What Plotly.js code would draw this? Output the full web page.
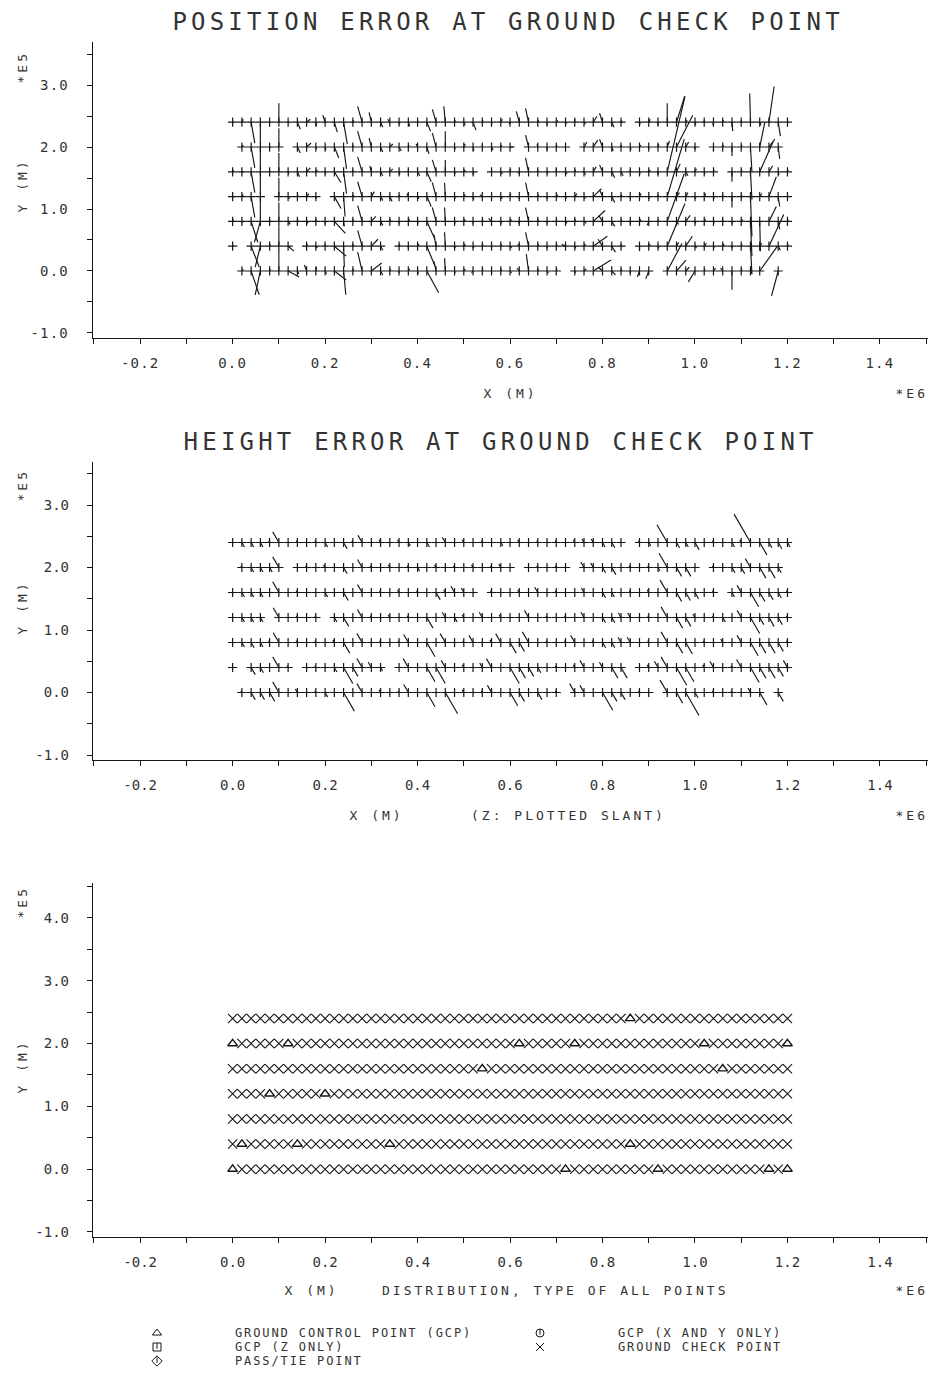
<!DOCTYPE html>
<html>
<head>
<meta charset="utf-8">
<script src="https://cdn.plot.ly/plotly-3.0.1.min.js"></script>
<style>
  html, body { margin: 0; padding: 0; background: #ffffff; }
  #chart { width: 934px; height: 1385px; }
</style>
</head>
<body>
<div id="chart"></div>
<script>
// ---- survey grid: column easting (E6 m) and row northing (E5 m) ----
const GRID_X = [0.00,0.02,0.04,0.06,0.08,0.10,0.12,0.14,0.16,0.18,
                0.20,0.22,0.24,0.26,0.28,0.30,0.32,0.34,0.36,0.38,
                0.40,0.42,0.44,0.46,0.48,0.50,0.52,0.54,0.56,0.58,
                0.60,0.62,0.64,0.66,0.68,0.70,0.72,0.74,0.76,0.78,
                0.80,0.82,0.84,0.86,0.88,0.90,0.92,0.94,0.96,0.98,
                1.00,1.02,1.04,1.06,1.08,1.10,1.12,1.14,1.16,1.18,
                1.20];
const ROW_Y = [2.4, 2.0, 1.6, 1.2, 0.8, 0.4, 0.0];

// grid columns occupied by ground control points, per row (same order as ROW_Y)
const GCP_COLS = [
  [43],
  [0, 6, 31, 37, 51, 60],
  [27, 53],
  [4, 10],
  [],
  [1, 7, 17, 43],
  [0, 36, 46, 58, 60]
];

// ---- planimetric error at check points (metres): east / north components ----
const POS_DE_240 = [1,2,5,0,0,0,1,4,5,1, -3,4,5,1,-6,-3,3,-3,1,2, 0,5,-5,-2,1,2,4,1,0,2, -1,-4,-4,1,0,2,1,0,2,5, -4,3,1,null,1,2,0,0,11,2, 1,0,-1,1,1,0,-1,2,7,3, 1];
const POS_DN_240 = [1,3,-21,-22,1,19,-1,-7,3,-4, 7,-10,-22,2,16,10,-5,3,-2,-4, 2,-9,13,16,2,-3,-8,2,-3,3, -2,11,14,2,-3,2,-2,3,-2,6, 9,-5,2,null,-2,3,-3,19,26,2, -3,2,-3,2,-9,2,29,-3,36,-14, 1];
const POS_DE_200 = [null,2,5,0,1,0,null,4,6,1, 1,6,4,0,-6,-3,3,4,3,1, -2,3,-5,0,1,2,1,0,2,1, 4,null,-4,-1,0,1,0,null,4,6, -4,2,0,1,2,0,1,3,22,4, 1,null,0,1,0,1,2,7,8,2, null];
const POS_DN_200 = [null,2,-21,-22,-1,19,null,-6,4,-2, -3,-11,-22,2,16,9,-5,3,-4,2, 3,-7,14,16,-2,3,-4,2,-3,2, 0,null,12,3,-3,2,-2,null,5,7, 8,-4,2,-3,2,-2,3,6,32,5, -2,null,-4,2,-9,2,-25,25,8,-12, null];
const POS_DE_160 = [1,2,5,0,1,0,1,3,5,2, 1,9,4,0,-6,-2,3,4,1,0, 3,6,-5,0,1,2,1,null,0,2, 1,-1,-4,0,1,0,2,1,2,4, -4,4,3,0,1,2,0,24,5,3, 2,1,1,null,0,1,2,18,5,1, 1];
const POS_DN_160 = [2,-1,-21,-22,1,19,-2,-5,4,2, -2,-11,-22,2,15,6,-4,3,-3,2, -4,-10,12,12,-2,2,-3,null,2,-2, 3,-2,14,2,-2,3,-2,2,-3,5, 7,-6,-4,2,-2,2,-3,76,8,-4, 3,-2,2,null,-10,2,-28,30,6,-3, 2];
const POS_DE_120 = [1,2,5,0,null,0,2,1,3,1, null,9,2,1,-6,4,3,3,1,-2, 2,6,-5,-1,1,2,1,-3,0,2, 1,-1,-4,1,0,2,1,3,2,11, -4,4,1,0,2,1,0,23,4,3, 1,2,1,0,0,1,2,3,10,2, 1];
const POS_DN_120 = [-1,2,-21,-21,null,19,-2,2,3,-2, null,-12,-20,2,15,5,-4,-5,2,3, -2,-10,14,14,-2,2,-3,2,2,-2, 3,-2,14,2,-2,2,-2,3,-2,8, 7,-6,2,-2,3,-2,2,58,4,4, -2,3,-2,2,-11,2,-40,3,20,-10, 1];
const POS_DE_080 = [1,2,9,-8,1,0,3,1,2,1, 0,15,1,1,-6,6,3,1,0,2, 1,11,-5,-1,1,2,0,1,-4,1, 2,-1,-4,1,0,1,2,1,3,16, -5,4,1,0,2,-2,1,23,3,6, 1,2,1,0,1,2,2,1,10,2, 1];
const POS_DN_080 = [2,-1,-21,-21,1,19,-3,2,-2,2, -2,-12,-5,2,16,5,-4,2,-2,2, -2,-18,14,14,-2,2,-2,2,3,-2, 2,-2,14,2,-2,2,-2,2,-2,11, 6,-5,2,-2,2,-4,2,48,-3,6, -2,2,-2,2,-2,2,-35,-30,15,-8, 2];
const POS_DE_040 = [1,null,11,-7,1,0,8,null,1,2, 0,16,1,1,-6,9,3,null,1,0, 2,11,-3,-1,1,2,1,1,0,1, 2,-2,-4,1,0,1,-5,1,2,19, -6,5,1,null,0,2,1,24,3,9, 2,3,1,2,0,1,2,3,20,3, 1];
const POS_DN_040 = [1,null,-21,-21,2,20,-5,null,2,-2, 2,-10,-21,2,16,7,-4,null,2,-2, 2,-20,12,14,-2,2,-2,2,-2,2, -2,2,14,2,-2,2,2,-2,2,10, 7,-6,2,null,-5,2,-2,43,4,10, -2,3,-2,2,-2,2,-28,3,32,-4, 2];
const POS_DE_000 = [null,2,11,-7,1,0,15,2,-3,1, 2,16,3,1,-6,14,3,1,0,2, 1,16,-3,-1,1,2,-2,1,0,1, 2,-3,-3,1,2,1,null,1,3,24, -6,5,1,0,-3,-4,null,20,13,5, -9,1,3,-3,0,1,2,24,null,-9, null];
const POS_DN_000 = [null,2,-24,-24,2,21,-6,-3,6,4, -3,-9,-24,2,19,8,-4,2,-2,2, -3,-22,10,13,-2,2,-2,2,-2,2, -2,3,17,2,-2,2,null,-2,2,11, 4,-4,2,-2,-6,-8,null,28,11,4, -11,2,3,3,-19,2,-3,25,null,-25, null];

// ---- height error at check points (metres) ----
const HGT_240 = [0,-5,-5,-5,2,12,0,2,0,2, -5,0,-7,2,8,0,3,0,3,-4, 0,-5,0,6,0,3,0,2,0,-4, 0,3,0,2,0,2,0,3,4,4, -5,-6,0,null,2,-4,0,20,-6,-5, -8,0,2,0,-5,3,32,-14,-6,-7, -5];
const HGT_200 = [null,2,-5,-5,-5,12,null,0,2,0, 3,0,-7,0,9,2,0,3,0,2, -4,0,3,0,2,0,3,0,2,4, 0,null,0,2,0,2,0,null,6,5, -6,-8,0,2,0,2,-4,16,-10,-10, 0,null,2,0,-6,-7,10,-12,-12,-6, null];
const HGT_160 = [0,-5,-5,-5,0,12,0,2,0,0, -5,0,-9,0,9,0,2,0,3,0, 2,0,-8,3,7,5,0,null,2,0, 0,3,0,6,0,2,0,0,5,0, -6,-5,0,2,0,3,0,14,-10,-9, -7,0,2,null,-5,8,-16,-10,-8,-6, 2];
const HGT_120 = [0,-5,-5,-5,null,11,0,2,0,2, null,-5,-10,0,9,2,0,3,0,2, 0,-12,0,6,-5,3,0,6,0,3, 0,0,8,0,2,0,2,0,6,0, -6,-6,5,5,0,2,0,12,-12,-10, 4,0,2,-5,0,8,-18,-8,-10,-8, 2];
const HGT_080 = [0,-5,-6,-5,2,11,0,2,0,2, 0,3,-12,0,10,0,2,0,2,9, 0,-16,0,10,0,2,8,0,3,10, -12,-10,12,0,2,0,2,8,0,2, -6,-6,6,6,0,2,0,12,-12,-13, 0,2,0,4,0,8,-15,-12,-12,-10, 2];
const HGT_040 = [0,null,-8,-6,0,12,2,null,0,2, 0,-5,-18,-10,10,6,-4,null,0,10, 0,-16,-18,8,0,3,0,5,10,0, -18,-12,-10,-6,0,2,0,3,8,0, 6,-12,-12,null,0,3,7,12,-20,-16, 0,3,7,0,2,9,-17,-12,-12,-10, 8];
const HGT_000 = [null,2,-8,-8,-10,12,0,4,0,2, -5,0,-21,0,10,0,3,0,2,9, 0,-16,0,-24,0,3,0,2,8,0, -15,-10,0,-8,0,2,null,10,8,0, -20,-10,-8,0,2,0,null,14,-12,-26, -6,0,2,0,2,0,5,-14,null,-10, null];

const POS_DE = [POS_DE_240, POS_DE_200, POS_DE_160, POS_DE_120, POS_DE_080, POS_DE_040, POS_DE_000];
const POS_DN = [POS_DN_240, POS_DN_200, POS_DN_160, POS_DN_120, POS_DN_080, POS_DN_040, POS_DN_000];
const HGT = [HGT_240, HGT_200, HGT_160, HGT_120, HGT_080, HGT_040, HGT_000];

// ---- axis ticks ----
const X_TICK_VALS = [-0.2, 0.0, 0.2, 0.4, 0.6, 0.8, 1.0, 1.2, 1.4];
const X_TICK_TEXT = ['-0.2', '0.0', '0.2', '0.4', '0.6', '0.8', '1.0', '1.2', '1.4'];
const Y_TICK_VALS = [-1, 0, 1, 2, 3];
const Y_TICK_TEXT = ['-1.0', '0.0', '1.0', '2.0', '3.0'];
const Y3_TICK_VALS = [-1, 0, 1, 2, 3, 4];
const Y3_TICK_TEXT = ['-1.0', '0.0', '1.0', '2.0', '3.0', '4.0'];

// ---- point-type key ----
const LEGEND_LABELS = ['GROUND CONTROL POINT (GCP)', 'GCP (Z ONLY)', 'PASS/TIE POINT', 'GCP (X AND Y ONLY)', 'GROUND CHECK POINT'];
const LEGEND_SYMBOLS = ['triangle-up-open', 'square-open', 'diamond-open', 'circle-open', 'x-thin'];
const LEGEND_TICKED = [false, true, true, true, false];
const LEGEND_COL = [0, 0, 0, 1, 1];
const LEGEND_ROW = [0, 1, 2, 0, 1];

// ---- drawing constants ----
const POS_SCALE = 1600;                 // map metres drawn per metre of planimetric error
const HGT_SCALE = 1800;                 // map metres drawn per metre of height error
const HGT_SLANT = 52 * Math.PI / 180;   // slant of the height-error stroke, map space
const INK = '#151515';
const TEXT_INK = '#333333';
const FONT = '"DejaVu Sans Mono", monospace';
const PAGE_W = 934, PAGE_H = 1385;

const isGcp = (r, i) => GCP_COLS[r].indexOf(i) >= 0;

// check points and their error strokes
const posPts = { x: [], y: [] }, posVec = { x: [], y: [] };
const hgtPts = { x: [], y: [] }, hgtVec = { x: [], y: [] };
const chkPts = { x: [], y: [] }, gcpPts = { x: [], y: [] };

ROW_Y.forEach((y0, r) => {
  GRID_X.forEach((x0, i) => {
    if (isGcp(r, i)) {
      gcpPts.x.push(x0); gcpPts.y.push(y0);
      return;
    }
    chkPts.x.push(x0); chkPts.y.push(y0);

    posPts.x.push(x0); posPts.y.push(y0);
    const dE = POS_DE[r][i], dN = POS_DN[r][i];
    if (dE != null && dN != null && (dE !== 0 || dN !== 0)) {
      posVec.x.push(x0, x0 + dE * POS_SCALE / 1e6, null);
      posVec.y.push(y0, y0 + dN * POS_SCALE / 1e5, null);
    }

    hgtPts.x.push(x0); hgtPts.y.push(y0);
    const dZ = HGT[r][i];
    if (dZ != null && dZ !== 0) {
      hgtVec.x.push(x0, x0 - dZ * HGT_SCALE * Math.cos(HGT_SLANT) / 1e6, null);
      hgtVec.y.push(y0, y0 + dZ * HGT_SCALE * Math.sin(HGT_SLANT) / 1e5, null);
    }
  });
});

const lineTrace = (d, xa, ya) => ({
  type: 'scatter', mode: 'lines', x: d.x, y: d.y, xaxis: xa, yaxis: ya,
  line: { color: INK, width: 1.15 }, hoverinfo: 'skip', connectgaps: false
});
const markTrace = (d, xa, ya, symbol, size, width) => ({
  type: 'scatter', mode: 'markers', x: d.x, y: d.y, xaxis: xa, yaxis: ya,
  marker: { symbol: symbol, size: size, color: INK, line: { color: INK, width: width } },
  hoverinfo: 'skip'
});

// key symbols, laid out on a page-pixel overlay axis
const LEG_X0 = 157, LEG_DX = 383, LEG_Y0 = 1333, LEG_DY = 14, LEG_TEXT_GAP = 76;
const legSym = { x: [], y: [], s: [] }, legTick = { x: [], y: [] };
LEGEND_LABELS.forEach((lab, k) => {
  const lx = LEG_X0 + LEGEND_COL[k] * LEG_DX, ly = LEG_Y0 + LEGEND_ROW[k] * LEG_DY;
  legSym.x.push(lx); legSym.y.push(ly); legSym.s.push(LEGEND_SYMBOLS[k]);
  if (LEGEND_TICKED[k]) { legTick.x.push(lx); legTick.y.push(ly - 1); }
});

const traces = [
  lineTrace(posVec, 'x', 'y'),
  markTrace(posPts, 'x', 'y', 'cross-thin', 6.6, 1.2),
  lineTrace(hgtVec, 'x2', 'y2'),
  markTrace(hgtPts, 'x2', 'y2', 'cross-thin', 6.6, 1.2),
  markTrace(chkPts, 'x3', 'y3', 'x-thin', 9.2, 1.1),
  markTrace(gcpPts, 'x3', 'y3', 'triangle-up-open', 8.5, 1.4),
  {
    type: 'scatter', mode: 'markers', x: legSym.x, y: legSym.y, xaxis: 'x4', yaxis: 'y4',
    marker: { symbol: legSym.s, size: 8, color: INK, line: { color: INK, width: 1.0 } }, hoverinfo: 'skip'
  },
  {
    type: 'scatter', mode: 'markers', x: legTick.x, y: legTick.y, xaxis: 'x4', yaxis: 'y4',
    marker: { symbol: 'line-ns', size: 4, color: INK, line: { color: INK, width: 1.0 } }, hoverinfo: 'skip'
  }
];

// ---- axes ----
const X_DOMAIN = [93 / PAGE_W, 928 / PAGE_W];
const X_RANGE = [-0.302, 1.504];
const dom = (topPx, botPx) => [1 - botPx / PAGE_H, 1 - topPx / PAGE_H];

const baseAxis = {
  showgrid: false, zeroline: false, showline: true, linecolor: INK, linewidth: 1.2,
  ticks: 'outside', ticklen: 5, tickwidth: 1, tickcolor: INK,
  tickfont: { family: FONT, size: 14, color: TEXT_INK },
  tickmode: 'array', fixedrange: true
};
const xAxis = (anchor) => Object.assign({}, baseAxis, {
  domain: X_DOMAIN, range: X_RANGE, anchor: anchor,
  tickvals: X_TICK_VALS, ticktext: X_TICK_TEXT, ticklabelstandoff: 7,
  minor: { tickmode: 'linear', tick0: 0, dtick: 0.1, ticks: 'outside', ticklen: 5, tickwidth: 1, tickcolor: INK }
});
const yAxis = (anchor, domain, range, vals, text) => Object.assign({}, baseAxis, {
  domain: domain, range: range, anchor: anchor,
  tickvals: vals, ticktext: text, ticklabelstandoff: 15,
  minor: { tickmode: 'linear', tick0: 0, dtick: 0.5, ticks: 'outside', ticklen: 5, tickwidth: 1, tickcolor: INK }
});

// ---- page text ----
const px = (x) => x / PAGE_W;
const py = (y) => 1 - y / PAGE_H;
const note = (text, x, y, size, opts) => Object.assign({
  text: text, x: px(x), y: py(y), xref: 'paper', yref: 'paper',
  xanchor: 'center', yanchor: 'middle', showarrow: false,
  font: { family: FONT, size: size, color: TEXT_INK }
}, opts || {});
const ROT = { textangle: -90 };

const annotations = [
  note('POSITION ERROR AT GROUND CHECK POINT', 508, 22, 24),
  note('*E5', 22, 68, 13, ROT),
  note('Y (M)', 22, 186, 13, ROT),
  note('X (M)', 510, 393, 13),
  note('*E6', 911, 393, 13),

  note('HEIGHT ERROR AT GROUND CHECK POINT', 500, 442, 24),
  note('*E5', 22, 486, 13, ROT),
  note('Y (M)', 22, 608, 13, ROT),
  note('X (M)', 376, 815, 13),
  note('(Z: PLOTTED SLANT)', 568, 815, 13),
  note('*E6', 911, 815, 13),

  note('*E5', 22, 903, 13, ROT),
  note('Y (M)', 22, 1067, 13, ROT),
  note('X (M)', 311, 1290, 13),
  note('DISTRIBUTION, TYPE OF ALL POINTS', 555, 1290, 13),
  note('*E6', 911, 1290, 13)
];
LEGEND_LABELS.forEach((lab, k) => {
  annotations.push(note(lab,
    LEG_X0 + LEGEND_COL[k] * LEG_DX + LEG_TEXT_GAP,
    LEG_Y0 + LEGEND_ROW[k] * LEG_DY, 12,
    { xanchor: 'left', align: 'left' }));
});

const layout = {
  width: PAGE_W, height: PAGE_H,
  margin: { l: 0, r: 0, t: 0, b: 0, pad: 0 },
  paper_bgcolor: '#ffffff', plot_bgcolor: 'rgba(0,0,0,0)',
  showlegend: false,
  xaxis: xAxis('y'),
  yaxis: yAxis('x', dom(42, 338), [-1.081, 3.694], Y_TICK_VALS, Y_TICK_TEXT),
  xaxis2: xAxis('y2'),
  yaxis2: yAxis('x2', dom(462, 760), [-1.08, 3.688], Y_TICK_VALS, Y_TICK_TEXT),
  xaxis3: xAxis('y3'),
  yaxis3: yAxis('x3', dom(883, 1237), [-1.08, 4.557], Y3_TICK_VALS, Y3_TICK_TEXT),
  xaxis4: { domain: [0, 1], range: [0, PAGE_W], visible: false, anchor: 'y4', fixedrange: true },
  yaxis4: { domain: [0, 1], range: [PAGE_H, 0], visible: false, anchor: 'x4', fixedrange: true },
  annotations: annotations
};

Plotly.newPlot('chart', traces, layout, { staticPlot: true, displayModeBar: false }).then(() => {
  // plotter-style open letter spacing
  document.querySelectorAll('.xtick text, .ytick text').forEach(t => { t.style.letterSpacing = '1.2px'; });
  document.querySelectorAll('.annotation-text').forEach(t => {
    const fs = parseFloat(t.style.fontSize) || 12;
    t.style.letterSpacing = fs > 20 ? '4.2px' : (fs >= 13 ? '3px' : '1.9px');
  });
});
</script>
</body>
</html>
